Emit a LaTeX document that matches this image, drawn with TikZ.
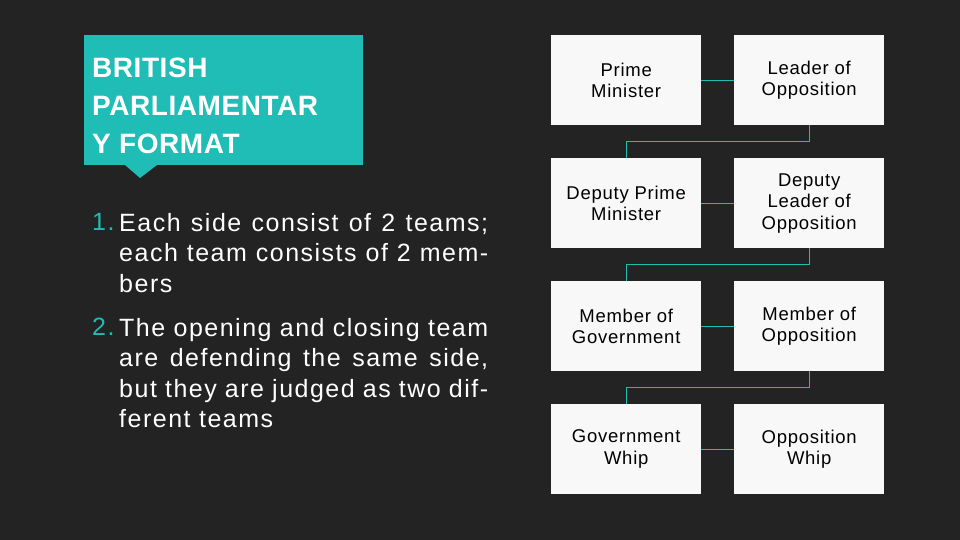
\documentclass[tikz,border=0pt]{standalone}
\usepackage{fontspec}
\setmainfont{Liberation Sans}
\newfontfamily\listfont[LetterSpace=6]{Liberation Sans}
\newfontfamily\titlefont[LetterSpace=2]{Liberation Sans}
\newfontfamily\boxfont[LetterSpace=4]{Liberation Sans}
\definecolor{bg}{HTML}{232323}
\definecolor{teal}{HTML}{1FBDB5}
\definecolor{boxw}{HTML}{F8F8F8}
\begin{document}
\begin{tikzpicture}[x=1pt,y=-1pt,
  role/.style={fill=boxw,draw=none,minimum width=150pt,minimum height=90pt,anchor=north west,inner sep=0pt,align=center,font=\boxfont\fontsize{18.5}{21.5}\selectfont,text=black},
  conn/.style={draw=teal,line width=1.3pt},
  lst/.style={anchor=north west,inner sep=0pt,font=\listfont\fontsize{25}{30.5}\selectfont}]
\fill[bg] (0,0) rectangle (960,540);
\useasboundingbox (0,0) rectangle (960,540);
% title
\fill[teal] (84,35) rectangle (363,165);
\fill[teal] (125,165) -- (140,178) -- (157,165) -- cycle;
\node[anchor=north west,inner sep=0pt,text=white,align=left,font=\titlefont\bfseries\fontsize{28}{38}\selectfont] (title) at (92,58) {BRITISH\\PARLIAMENTAR\\Y FORMAT};
% list
\node[lst,text=teal] (n1) at (92,213) {1.};
\node[lst,text=white,text width=369pt,align=justify] (t1) at (119,213) {Each side consist of 2 teams; each team consists of 2 members};
\node[lst,text=teal] (n2) at (92,318) {2.};
\node[lst,text=white,text width=369pt,align=justify] (t2) at (119,318) {The opening and closing team are defending the same side, but they are judged as two different teams};
% boxes
\node[role] (pm) at (551,35) {Prime\\Minister};
\node[role] (lo) at (734,35) {Leader of\\Opposition};
\node[role] (dpm) at (551,158) {Deputy Prime\\Minister};
\node[role] (dlo) at (734,158) {Deputy\\Leader of\\Opposition};
\node[role] (mg) at (551,281) {Member of\\Government};
\node[role] (mo) at (734,281) {Member of\\Opposition};
\node[role] (gw) at (551,404) {Government\\Whip};
\node[role] (ow) at (734,404) {Opposition\\Whip};
% connectors
\draw[conn] (pm.east) -- (lo.west);
\draw[conn] (dpm.east) -- (dlo.west);
\draw[conn] (mg.east) -- (mo.west);
\draw[conn] (gw.east) -- (ow.west);
\draw[conn] (lo.south) -- ++(0,16) -| (dpm.north);
\draw[conn] (dlo.south) -- ++(0,16) -| (mg.north);
\draw[conn] (mo.south) -- ++(0,16) -| (gw.north);
\end{tikzpicture}
\end{document}
